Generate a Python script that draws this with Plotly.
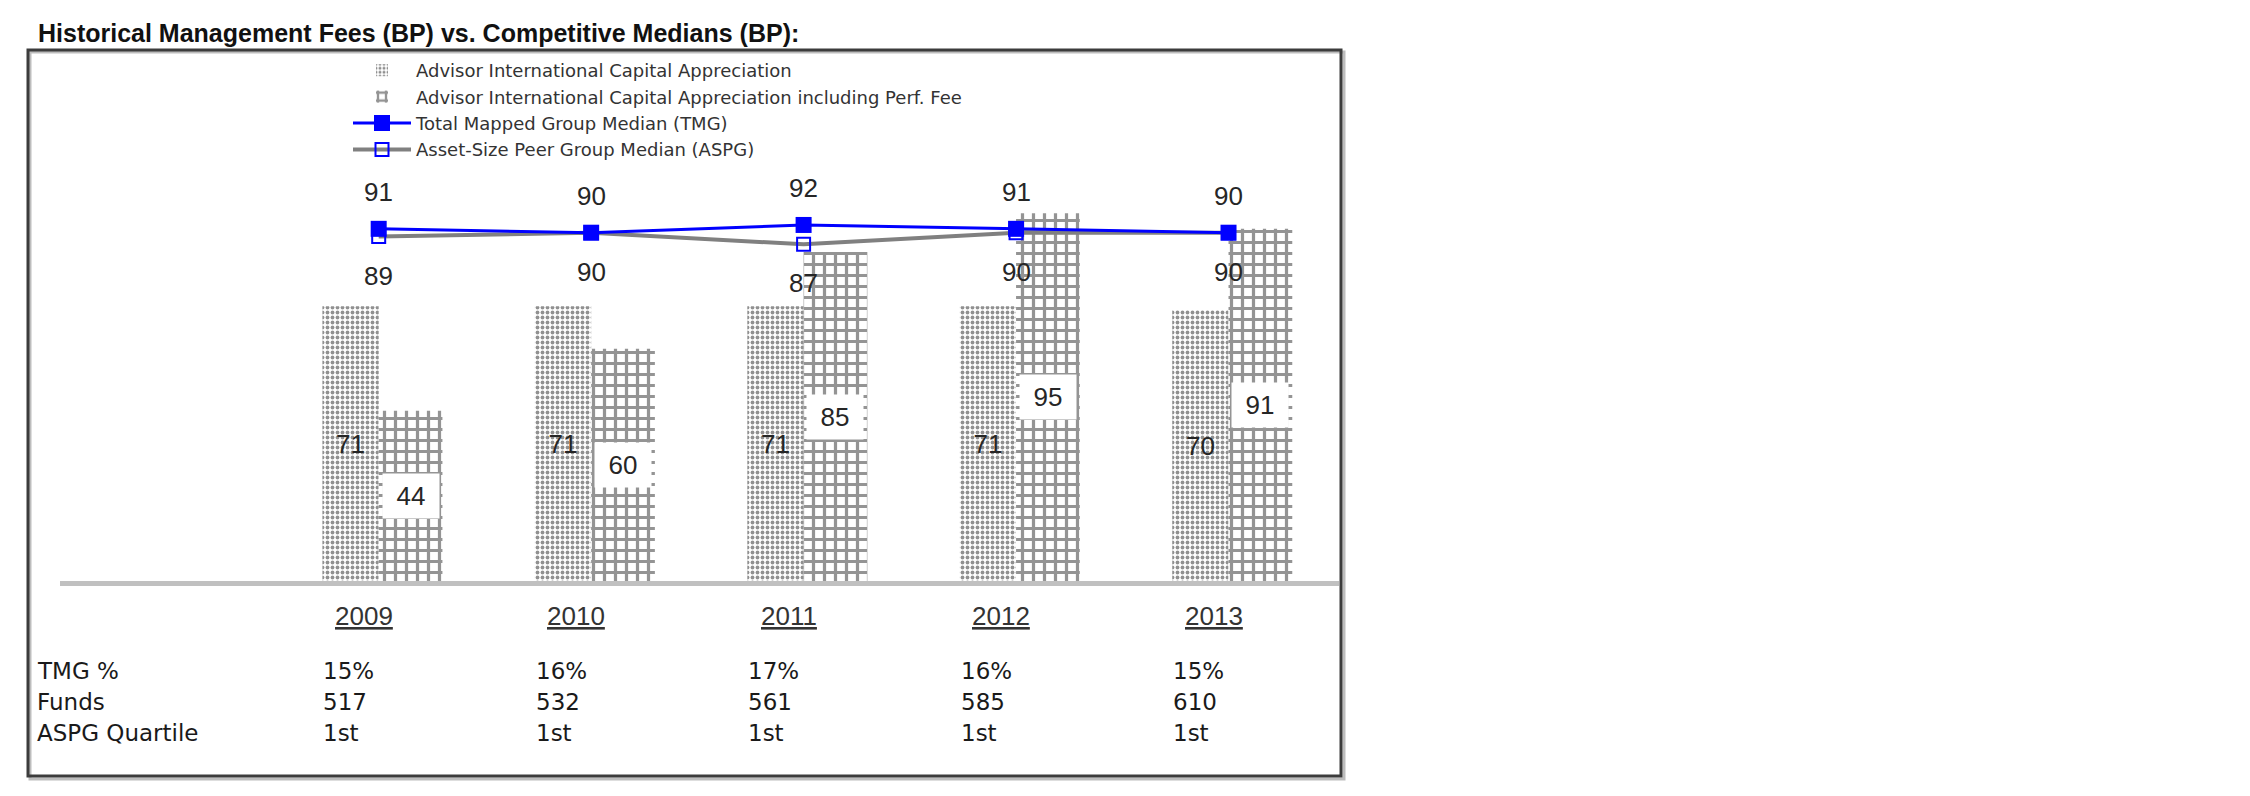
import plotly.graph_objects as go

# ---------------- data ----------------
years = ["2009", "2010", "2011", "2012", "2013"]
aica = [71, 71, 71, 71, 70]                 # Advisor International Capital Appreciation
aica_perf = [44, 60, 85, 95, 91]            # ... including Perf. Fee
tmg = [91, 90, 92, 91, 90]                  # Total Mapped Group Median
aspg = [89, 90, 87, 90, 90]                 # Asset-Size Peer Group Median
tmg_pct = ["15%", "16%", "17%", "16%", "15%"]
funds = [517, 532, 561, 585, 610]
aspg_quartile = ["1st", "1st", "1st", "1st", "1st"]
row_labels = ["TMG %", "Funds", "ASPG Quartile"]
series_names = [
    "Advisor International Capital Appreciation",
    "Advisor International Capital Appreciation including Perf. Fee",
    "Total Mapped Group Median (TMG)",
    "Asset-Size Peer Group Median (ASPG)",
]
title_text = "Historical Management Fees (BP) vs. Competitive Medians (BP):"

# ---------------- layout constants ----------------
W, H = 2250, 796
L, R, T, B = 52, 919, 42, 223
PW, PH = W - L - R, H - T - B
W1, W2 = 0.265, 0.30
xs = list(range(len(years)))

FONT = "Liberation Sans, Arial, sans-serif"
WIDE = "DejaVu Sans, sans-serif"
TXT = "#262626"

def py(px_y):
    """figure pixel y -> paper y"""
    return (H - B - px_y) / PH

def px(px_x):
    return (px_x - L) / PW

fig = go.Figure()

fig.add_trace(go.Bar(
    x=xs, y=aica, width=W1, offset=-W1, name=series_names[0],
    marker=dict(color="white", line=dict(width=0),
                pattern=dict(shape=".", fgcolor="#222222", bgcolor="white",
                             size=5, solidity=0.45)),
    text=[str(v) for v in aica], textposition="inside", insidetextanchor="middle",
    insidetextfont=dict(family=FONT, size=26, color=TXT),
    textangle=0, legendrank=1,
))
fig.add_trace(go.Bar(
    x=xs, y=aica_perf, width=W2, offset=0, name=series_names[1],
    marker=dict(color="white", line=dict(width=0),
                pattern=dict(shape="+", fgcolor="#2a2a2a", bgcolor="white",
                             size=11, solidity=0.5)),
    legendrank=2,
))
fig.add_trace(go.Scatter(
    x=xs, y=aspg, mode="lines+markers", name=series_names[3],
    line=dict(color="#808080", width=4),
    marker=dict(symbol="square-open", size=13, color="#0000FF",
                line=dict(width=2, color="#0000FF")),
    legendrank=4,
))
fig.add_trace(go.Scatter(
    x=xs, y=tmg, mode="lines+markers", name=series_names[2],
    line=dict(color="#0000FF", width=3),
    marker=dict(symbol="square", size=16, color="#0000FF"),
    legendrank=3,
))

ann = []
# line labels
for i, v in enumerate(tmg):
    ann.append(dict(x=i, y=v, text=str(v), showarrow=False, yshift=37,
                    font=dict(family=FONT, size=26, color=TXT)))
for i, v in enumerate(aspg):
    ann.append(dict(x=i, y=v, text=str(v), showarrow=False, yshift=-39,
                    font=dict(family=FONT, size=26, color=TXT)))
# second-series value boxes
for i, v in enumerate(aica_perf):
    ann.append(dict(x=i + W2 / 2, y=v / 2, text=str(v), showarrow=False,
                    bgcolor="white", width=54, height=42,
                    font=dict(family=FONT, size=26, color=TXT)))
# year labels
for i, yv in enumerate(years):
    ann.append(dict(x=i - 0.07, y=py(625), yref="paper", text="<u>%s</u>" % yv,
                    showarrow=False, font=dict(family=FONT, size=26, color="#333333")))
# table rows
rows = [tmg_pct, [str(f) for f in funds], aspg_quartile]
row_y = [678, 709, 740]
for r, (lab, vals, yy) in enumerate(zip(row_labels, rows, row_y)):
    ann.append(dict(x=px(27), xref="paper", y=py(yy), yref="paper", text=lab,
                    xanchor="left", showarrow=False,
                    font=dict(family=WIDE, size=23, color="#1a1a1a")))
    for i, v in enumerate(vals):
        ann.append(dict(x=i - 0.27, y=py(yy), yref="paper", text=v, xanchor="left",
                        showarrow=False, font=dict(family=WIDE, size=23, color="#1a1a1a")))
# title
ann.append(dict(x=px(28), xref="paper", y=py(25), yref="paper", text="<b>%s</b>" % title_text,
                xanchor="left", yanchor="middle", showarrow=False,
                font=dict(family=FONT, size=25, color="#111111")))

shapes = [
    # outer frame shadow
    dict(type="rect", xref="paper", yref="paper",
         x0=px(22), x1=px(1336), y0=py(771), y1=py(44),
         line=dict(color="#bdbdbd", width=3)),
    # outer frame
    dict(type="rect", xref="paper", yref="paper",
         x0=px(20), x1=px(1333), y0=py(768), y1=py(42),
         line=dict(color="#3c3c3c", width=3)),
]

fig.update_layout(
    width=W, height=H,
    margin=dict(l=L, r=R, t=T, b=B, pad=0),
    paper_bgcolor="white", plot_bgcolor="white",
    barmode="overlay",
    showlegend=True,
    legend=dict(x=px(340), y=py(44), xanchor="left", yanchor="top",
                traceorder="normal", itemwidth=58,
                font=dict(family=WIDE, size=18, color="#333333"),
                bgcolor="rgba(0,0,0,0)", borderwidth=0, tracegroupgap=0),
    xaxis=dict(range=[-1.5, 4.52], showticklabels=False, showgrid=False,
               zeroline=False, showline=True, linecolor="#c0c0c0", linewidth=5,
               ticks=""),
    yaxis=dict(range=[0, PH / 3.87], showticklabels=False, showgrid=False,
               zeroline=False, showline=False, ticks=""),
    annotations=ann,
    shapes=shapes,
    font=dict(family=FONT),
)

fig.write_html("out.html")
